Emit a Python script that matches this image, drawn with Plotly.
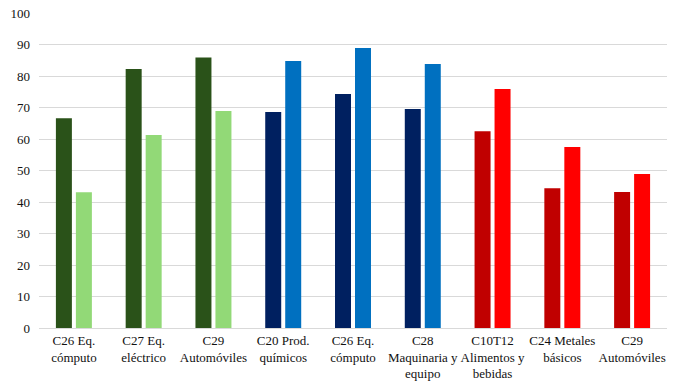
import plotly.graph_objects as go

categories = [
    "C26 Eq.<br>cómputo", "C27 Eq.<br>eléctrico", "C29<br>Automóviles",
    "C20 Prod.<br>químicos", "C26 Eq.<br>cómputo", "C28<br>Maquinaria y<br>equipo",
    "C10T12<br>Alimentos y<br>bebidas", "C24 Metales<br>básicos", "C29<br>Automóviles",
]
first_values = [66.6, 82.2, 85.9, 68.6, 74.3, 69.5, 62.5, 44.4, 43.2]
second_values = [43.1, 61.3, 68.9, 84.8, 88.9, 83.8, 75.9, 57.5, 48.9]
y_ticks = [0, 10, 20, 30, 40, 50, 60, 70, 80, 90, 100]

first_colors = ["#2A5219"] * 3 + ["#002060"] * 3 + ["#C00000"] * 3
second_colors = ["#92D977"] * 3 + ["#0070C0"] * 3 + ["#FF0000"] * 3

x = list(range(len(categories)))

fig = go.Figure()
fig.add_trace(go.Bar(x=x, y=first_values, marker=dict(color=first_colors, line=dict(width=0)),
                     showlegend=False))
fig.add_trace(go.Bar(x=x, y=second_values, marker=dict(color=second_colors, line=dict(width=0)),
                     showlegend=False))

font_family = "Liberation Serif, Times New Roman, serif"
text_color = "#111111"
fig.update_layout(
    width=674, height=381,
    margin=dict(l=39, r=7, t=13, b=53),
    paper_bgcolor="white", plot_bgcolor="white",
    barmode="group", bargap=0.427, bargroupgap=0.2,
    font=dict(family=font_family, size=13, color=text_color),
    xaxis=dict(
        tickmode="array", tickvals=x, ticktext=categories,
        range=[-0.5, len(categories) - 0.5],
        showgrid=False, showline=True, linecolor="#D9D9D9", linewidth=1,
        ticks="", tickfont=dict(size=13, family=font_family, color=text_color),
        zeroline=False, automargin=False,
    ),
    yaxis=dict(
        range=[0, 100], tickmode="array", tickvals=y_ticks,
        showgrid=True, gridcolor="#D9D9D9", gridwidth=1,
        zeroline=False, showline=False, ticks="",
        tickfont=dict(size=13, family=font_family, color=text_color),
        ticklabelstandoff=8, automargin=False,
    ),
)

fig.write_html(
    "out.html",
    config={"displayModeBar": False},
    post_script="document.body.style.margin='0px';document.body.style.overflow='hidden';",
)
